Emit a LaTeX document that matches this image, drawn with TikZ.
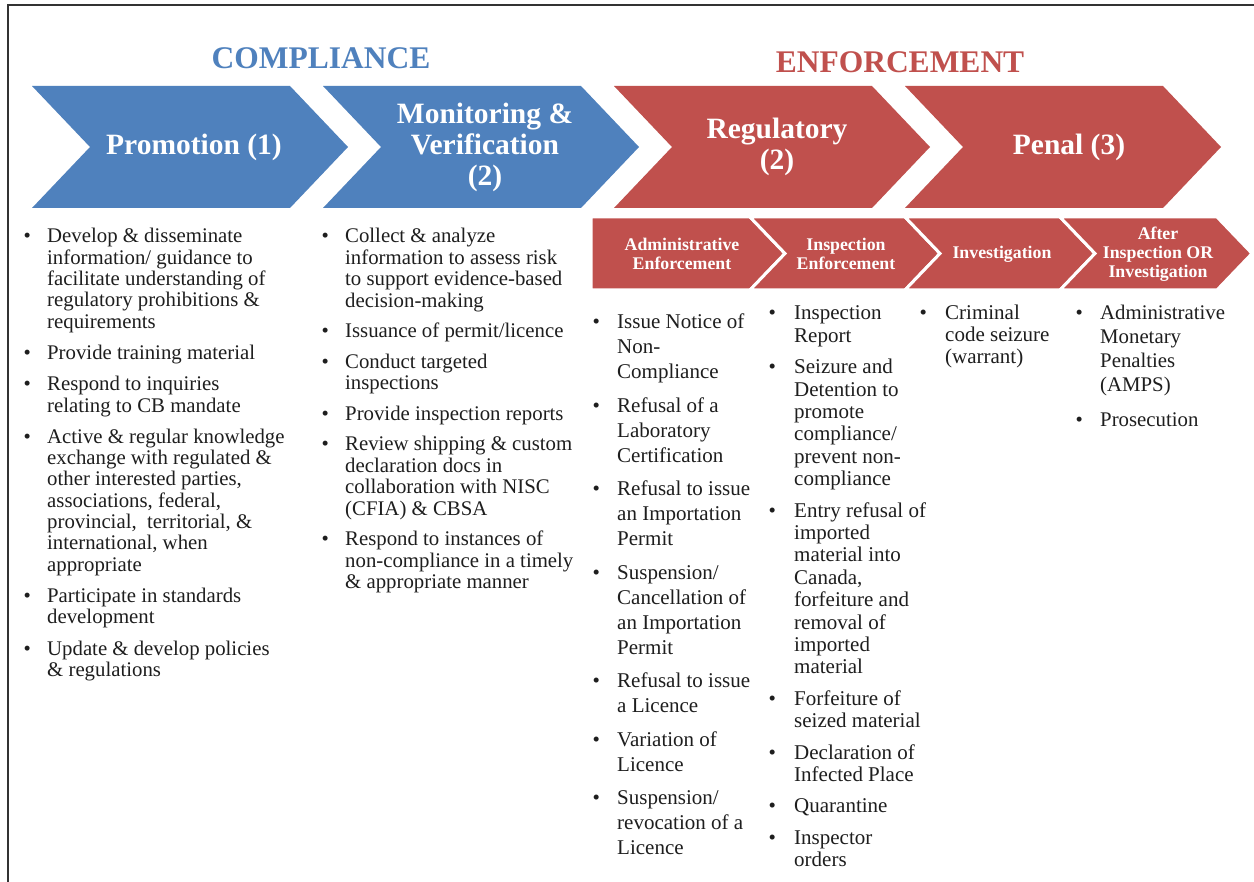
\documentclass[tikz,border=0pt]{standalone}
\usepackage{fontspec}
\setmainfont{Liberation Serif}
\definecolor{cblue}{HTML}{4F81BD}
\definecolor{cred}{HTML}{C0504D}
\definecolor{txt}{HTML}{1E1E1E}
\definecolor{frame}{HTML}{333333}
\newlength{\bind}
\newcommand{\bitem}[1]{\par\hangindent=\bind\hangafter=1\noindent\makebox[\bind][l]{•}\begingroup\let\\\newline#1\endgroup}
\begin{document}
\begin{tikzpicture}[x=1pt,y=-1pt,
  subchev/.style={fill=cred,draw=white,line width=3pt,line join=miter},
  lbl/.style={text=white,font=\fontsize{29.5}{31}\selectfont\bfseries,align=center,inner sep=0},
  sublbl/.style={text=white,font=\fontsize{17.8}{19}\selectfont\bfseries,align=center,inner sep=0},
  head/.style={font=\fontsize{31.5}{33}\selectfont\bfseries,inner sep=0},
  col/.style={anchor=base west,inner sep=0,text=txt}]
\useasboundingbox (0,0) rectangle (1254,882);
\fill[white] (0,0) rectangle (1254,882);
% frame
\draw[frame,line width=2.5pt] (8,882) -- (8,5) -- (1254,5);
% headings
\node[head,text=cblue] (hcomp) at (321,58) {COMPLIANCE};
\node[head,text=cred] (henf) at (900,62) {ENFORCEMENT};
% big chevrons
\foreach \x/\c in {32/cblue,323/cblue,614/cred,905/cred}{
  \fill[\c] (\x,86) -- ({\x+258},86) -- ({\x+316},147) -- ({\x+258},208) -- (\x,208) -- ({\x+58},147) -- cycle;
}
\node[lbl] (promo) at (194,147) {Promotion (1)};
\node[lbl] (monit) at (485,147) {Monitoring \&\\Verification\\(2)};
\node[lbl] (regul) at (777,147) {Regulatory\\(2)};
\node[lbl] (penal) at (1069,147) {Penal (3)};
% sub chevrons
\draw[subchev] (591,217) -- (750,217) -- (785,253.5) -- (750,290) -- (591,290) -- cycle;
\draw[subchev] (750,217) -- (905,217) -- (940,253.5) -- (905,290) -- (750,290) -- (785,253.5) -- cycle;
\draw[subchev] (905,217) -- (1060,217) -- (1095,253.5) -- (1060,290) -- (905,290) -- (940,253.5) -- cycle;
\draw[subchev] (1060,217) -- (1217,217) -- (1252,253.5) -- (1217,290) -- (1060,290) -- (1095,253.5) -- cycle;
\node[sublbl] (sadm) at (682,254) {Administrative\\Enforcement};
\node[sublbl] (sins) at (846,254) {Inspection\\Enforcement};
\node[sublbl] (sinv) at (1002,254) {Investigation};
\node[sublbl] (saft) at (1158,254) {After\\Inspection OR\\Investigation};
% columns
\node[col] (col1) at (23.5,243) {\parbox[t]{290pt}{\raggedright\fontsize{20.8}{21.3}\selectfont\setlength{\bind}{23.5pt}\setlength{\parskip}{10pt}%
\bitem{Develop \& disseminate\\information/ guidance to\\facilitate understanding of\\regulatory prohibitions \&\\requirements}
\bitem{Provide training material}
\bitem{Respond to inquiries\\relating to CB mandate}
\bitem{Active \& regular knowledge\\exchange with regulated \&\\other interested parties,\\associations, federal,\\provincial,\ \ territorial, \&\\international, when\\appropriate}
\bitem{Participate in standards\\development}
\bitem{Update \& develop policies\\\& regulations}}};
\node[col] (col2) at (321.5,243) {\parbox[t]{290pt}{\raggedright\fontsize{20.8}{21.5}\selectfont\setlength{\bind}{23.5pt}\setlength{\parskip}{9pt}%
\bitem{Collect \& analyze\\information to assess risk\\to support evidence-based\\decision-making}
\bitem{Issuance of permit/licence}
\bitem{Conduct targeted\\inspections}
\bitem{Provide inspection reports}
\bitem{Review shipping \& custom\\declaration docs in\\collaboration with NISC\\(CFIA) \& CBSA}
\bitem{Respond to instances of\\non-compliance in a timely\\\& appropriate manner}}};
\node[col] (col3) at (592.5,329) {\parbox[t]{200pt}{\raggedright\fontsize{21}{25}\selectfont\setlength{\bind}{24.5pt}\setlength{\parskip}{8.5pt}%
\bitem{Issue Notice of\\Non-\\Compliance}
\bitem{Refusal of a\\Laboratory\\Certification}
\bitem{Refusal to issue\\an Importation\\Permit}
\bitem{Suspension/\\Cancellation of\\an Importation\\Permit}
\bitem{Refusal to issue\\a Licence}
\bitem{Variation of\\Licence}
\bitem{Suspension/\\revocation of a\\Licence}}};
\node[col] (col4) at (768.5,320) {\parbox[t]{200pt}{\raggedright\fontsize{21}{22.4}\selectfont\setlength{\bind}{25.5pt}\setlength{\parskip}{9pt}%
\bitem{Inspection\\Report}
\bitem{Seizure and\\Detention to\\promote\\compliance/\\prevent non-\\compliance}
\bitem{Entry refusal of\\imported\\material into\\Canada,\\forfeiture and\\removal of\\imported\\material}
\bitem{Forfeiture of\\seized material}
\bitem{Declaration of\\Infected Place}
\bitem{Quarantine}
\bitem{Inspector\\orders}}};
\node[col] (col5) at (919.5,320) {\parbox[t]{170pt}{\raggedright\fontsize{21}{22}\selectfont\setlength{\bind}{25.5pt}\setlength{\parskip}{9pt}%
\bitem{Criminal\\code seizure\\(warrant)}}};
\node[col] (col6) at (1075.5,320) {\parbox[t]{175pt}{\raggedright\fontsize{20.8}{24}\selectfont\setlength{\bind}{24.5pt}\setlength{\parskip}{11pt}%
\bitem{Administrative\\Monetary\\Penalties\\(AMPS)}
\bitem{Prosecution}}};
\end{tikzpicture}
\end{document}
